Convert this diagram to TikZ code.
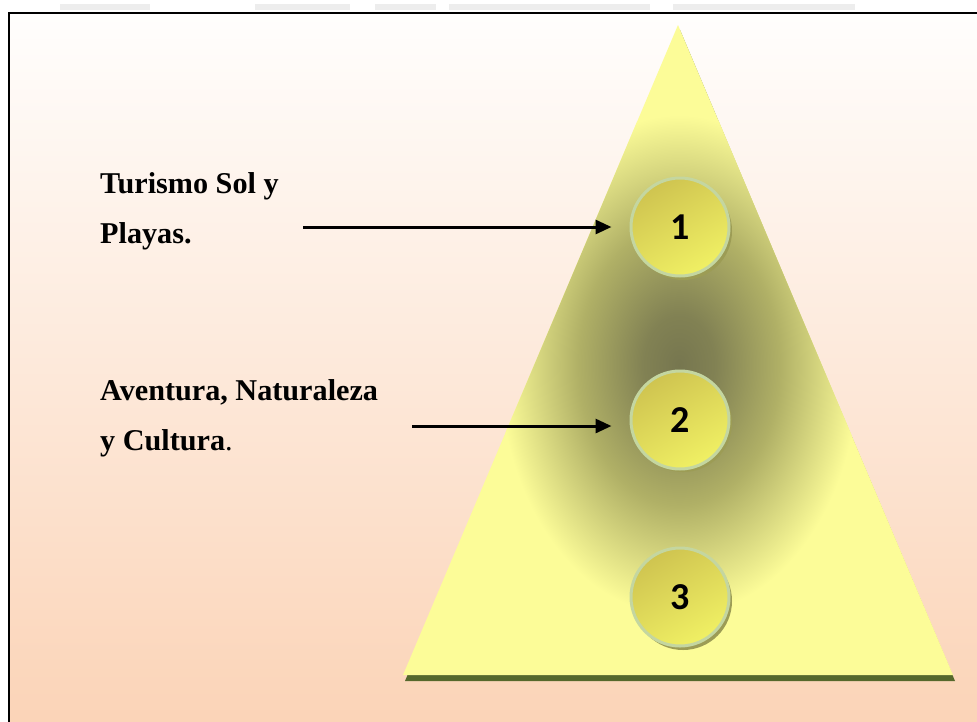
\documentclass[tikz,border=0pt]{standalone}
\usepackage{fontspec}
\setmainfont{Liberation Serif}
\newfontfamily\numfont{Carlito}
\usetikzlibrary{arrows.meta}
\definecolor{bgtop}{HTML}{FFFEFD}
\definecolor{bgbot}{HTML}{FBD3B6}
\definecolor{tyellow}{HTML}{FCFC98}
\definecolor{pdark}{HTML}{76764F}
\definecolor{pmid}{HTML}{B0B066}
\definecolor{gshadow}{HTML}{55682C}
\definecolor{cborder}{HTML}{C4D6A0}
\definecolor{ctop}{HTML}{CFC450}
\definecolor{cbot}{HTML}{F0F064}
\definecolor{cshadow}{HTML}{9C9C55}
\pgfdeclareradialshading{pyr}{\pgfpoint{0bp}{0bp}}{color(0bp)=(pdark); color(5bp)=(pdark!80!pmid); color(14bp)=(pmid); color(25bp)=(tyellow); color(100bp)=(tyellow)}
\tikzset{
  lbl/.style={anchor=base west, inner sep=0pt, font=\fontsize{30.2}{31}\selectfont\bfseries},
  num/.style={circle, minimum size=98pt, inner sep=0pt, draw=cborder, line width=3pt,
    top color=ctop, bottom color=cbot, shading angle=30,
    font=\numfont\fontsize{38}{38}\selectfont\bfseries},
  arr/.style={line width=3pt, -{Triangle[length=16pt,width=14pt]}, shorten >=18pt},
  ghost/.style={fill=black!7, draw=none}
}
\begin{document}
\begin{tikzpicture}[x=1pt,y=-1pt]
\useasboundingbox (0,0) rectangle (977,721);
\fill[white] (0,0) rectangle (977,721);
% faint ghost marks above frame
\fill[ghost] (60,4) rectangle (150,10);
\fill[ghost] (255,4) rectangle (350,10);
\fill[ghost] (375,4) rectangle (436,10);
\fill[ghost] (449,4) rectangle (650,10);
\fill[ghost] (673,4) rectangle (855,10);
% framed background
\shade[top color=bgtop, bottom color=bgbot] (9,13) rectangle (990,735);
\draw[line width=2.5pt, black] (9,735) -- (9,13) -- (990,13);
% pyramid shadow
\fill[gshadow] (680,30) -- (955,681) -- (405,681) -- cycle;
% pyramid
\begin{scope}
\clip (678,25) -- (953,675) -- (403,675) -- cycle;
\fill[tyellow] (400,20) rectangle (960,680);
\shade[shading=pyr] (679,365) ellipse [x radius=180, y radius=250];
\end{scope}
% circles with shadows
\fill[cshadow] (683,231) circle (49);
\fill[cshadow] (683,423) circle (49);
\fill[cshadow] (683,601) circle (49);
\node[num] (c1) at (680,227) {1};
\node[num] (c2) at (680,420) {2};
\node[num] (c3) at (680,597) {3};
% labels
\node[lbl] (t1a) at (100,193) {Turismo Sol y};
\node[lbl] (t1b) at (100,243) {Playas.};
\node[lbl] (t2a) at (100,400) {Aventura, Naturaleza};
\node[lbl] (t2b) at (100,450) {y Cultura{\mdseries .}};
% arrows
\coordinate (a1s) at (303,227);
\coordinate (a2s) at (412,426);
\draw[arr] (a1s) -- (c1.west |- a1s);
\draw[arr] (a2s) -- (c2.west |- a2s);
\end{tikzpicture}
\end{document}
